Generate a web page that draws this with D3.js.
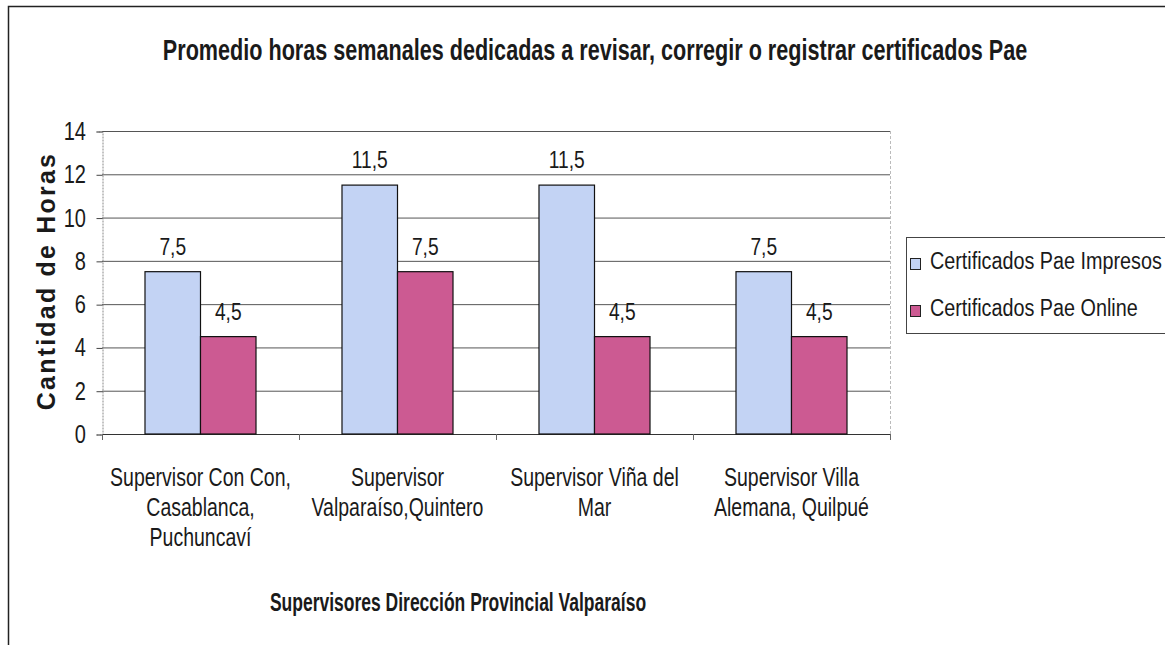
<!DOCTYPE html>
<html><head><meta charset="utf-8">
<script src="https://cdn.jsdelivr.net/npm/d3@7"></script>
<style>
html,body{margin:0;padding:0;background:#fff;}
svg text{font-family:"Liberation Sans",Arial,sans-serif;fill:#1a1a1a;}
</style></head>
<body>
<svg id="chart" width="1165" height="645"></svg>
<script>
const title = "Promedio horas semanales dedicadas a revisar, corregir o registrar certificados Pae";
const yTitle = "Cantidad de Horas";
const xTitle = "Supervisores Dirección Provincial Valparaíso";
const categories = [
  ["Supervisor Con Con,", "Casablanca,", "Puchuncaví"],
  ["Supervisor", "Valparaíso,Quintero"],
  ["Supervisor Viña del", "Mar"],
  ["Supervisor Villa", "Alemana, Quilpué"]
];
const seriesNames = ["Certificados Pae Impresos", "Certificados Pae Online"];
const impresos = [7.5, 11.5, 11.5, 7.5];
const online = [4.5, 7.5, 4.5, 4.5];
const yTicks = [0, 2, 4, 6, 8, 10, 12, 14];
const colors = ["#c3d3f4", "#cc5a92"];

const svg = d3.select("#chart");
const pLeft = 102, pRight = 890, pTop = 131, pBottom = 434;

// narrow text helper (condensed look)
function ntext(parent, x, y, str, size, sx, anchor, bold) {
  return parent.append("text")
    .attr("transform", `translate(${x},${y}) scale(${sx},1)`)
    .attr("text-anchor", anchor || "start")
    .style("font-size", size + "px")
    .style("font-weight", bold ? "bold" : "normal")
    .text(str);
}

// outer border
svg.append("path").attr("d", "M8.5,645 V6.5 H1165").attr("fill", "none").attr("stroke", "#222").attr("stroke-width", 1.5);

const x0 = d3.scaleBand().domain(d3.range(categories.length)).range([pLeft, pRight])
  .paddingInner(0.4365).paddingOuter(0.21825);
const x1 = d3.scaleBand().domain([0, 1]).range([0, x0.bandwidth()]);
const y = d3.scaleLinear().domain([0, 14]).range([pBottom, pTop]);

// gridlines
svg.append("g").selectAll("line").data(yTicks.filter(d => d > 0)).join("line")
  .attr("x1", pLeft).attr("x2", pRight).attr("y1", d => y(d) + 0.5).attr("y2", d => y(d) + 0.5)
  .attr("stroke", "#555").attr("stroke-width", 1);
// right plot border (light)
svg.append("line").attr("x1", pRight + 0.5).attr("x2", pRight + 0.5).attr("y1", pTop).attr("y2", pBottom)
  .attr("stroke", "#bbb").attr("stroke-dasharray", "3,2");

// y axis
const yAxis = d3.axisLeft(y).tickValues(yTicks).tickSize(6).tickFormat("");
const gy = svg.append("g").attr("transform", `translate(${pLeft + 0.5},0.5)`).call(yAxis);
gy.select(".domain").attr("stroke", "#888").attr("stroke-dasharray", "2,1");
gy.selectAll(".tick line").attr("stroke", "#444");
const gyl = svg.append("g");
yTicks.forEach(t => ntext(gyl, 86, y(t) + 9, d3.format("d")(t), 26, 0.77, "end"));

// x axis
const xTickPos = d3.range(categories.length + 1).map(i => pLeft + i * x0.step());
svg.append("line").attr("x1", pLeft).attr("x2", pRight).attr("y1", pBottom + 0.5).attr("y2", pBottom + 0.5).attr("stroke", "#333");
svg.append("g").selectAll("line").data(xTickPos).join("line")
  .attr("x1", d => d + 0.5).attr("x2", d => d + 0.5).attr("y1", pBottom).attr("y2", pBottom + 6).attr("stroke", "#666");

// bars
const data = categories.map((c, i) => [impresos[i], online[i]]);
const groups = svg.append("g").selectAll("g").data(data).join("g")
  .attr("transform", (d, i) => `translate(${x0(i)},0)`);
groups.selectAll("rect").data(d => d).join("rect")
  .attr("x", (d, j) => x1(j)).attr("width", x1.bandwidth())
  .attr("y", d => y(d)).attr("height", d => y(0) - y(d))
  .attr("fill", (d, j) => colors[j]).attr("stroke", "#111").attr("stroke-width", 1.2);
groups.each(function(d) {
  const g = d3.select(this);
  d.forEach((v, j) => ntext(g, x1(j) + x1.bandwidth() / 2, y(v) - 17,
    d3.format(".1f")(v).replace(".", ","), 24, 0.8, "middle"));
});

// category labels
const gc = svg.append("g");
categories.forEach((lines, i) => {
  lines.forEach((t, k) => ntext(gc, x0(i) + x0.bandwidth() / 2, 486 + k * 30, t, 25, 0.78, "middle"));
});

// title
ntext(svg, 595, 60, title, 29, 0.745, "middle", true);
// y title
svg.append("text").attr("transform", "translate(55,281) rotate(-90)").attr("text-anchor", "middle")
  .style("font-size", "25px").style("font-weight", "bold").style("letter-spacing", "2.2px").text(yTitle);
// x title
ntext(svg, 458, 611, xTitle, 25, 0.7, "middle", true);

// legend
const lg = svg.append("g");
lg.append("rect").attr("x", 906.5).attr("y", 237.5).attr("width", 270).attr("height", 96)
  .attr("fill", "#fff").attr("stroke", "#444");
seriesNames.forEach((s, i) => {
  const by = 269 + i * 47;
  lg.append("rect").attr("x", 910.5).attr("y", by - 10.5).attr("width", 10).attr("height", 11)
    .attr("fill", colors[i]).attr("stroke", "#222");
  ntext(lg, 930, by, s, 23, 0.86, "start");
});
</script>
</body></html>
